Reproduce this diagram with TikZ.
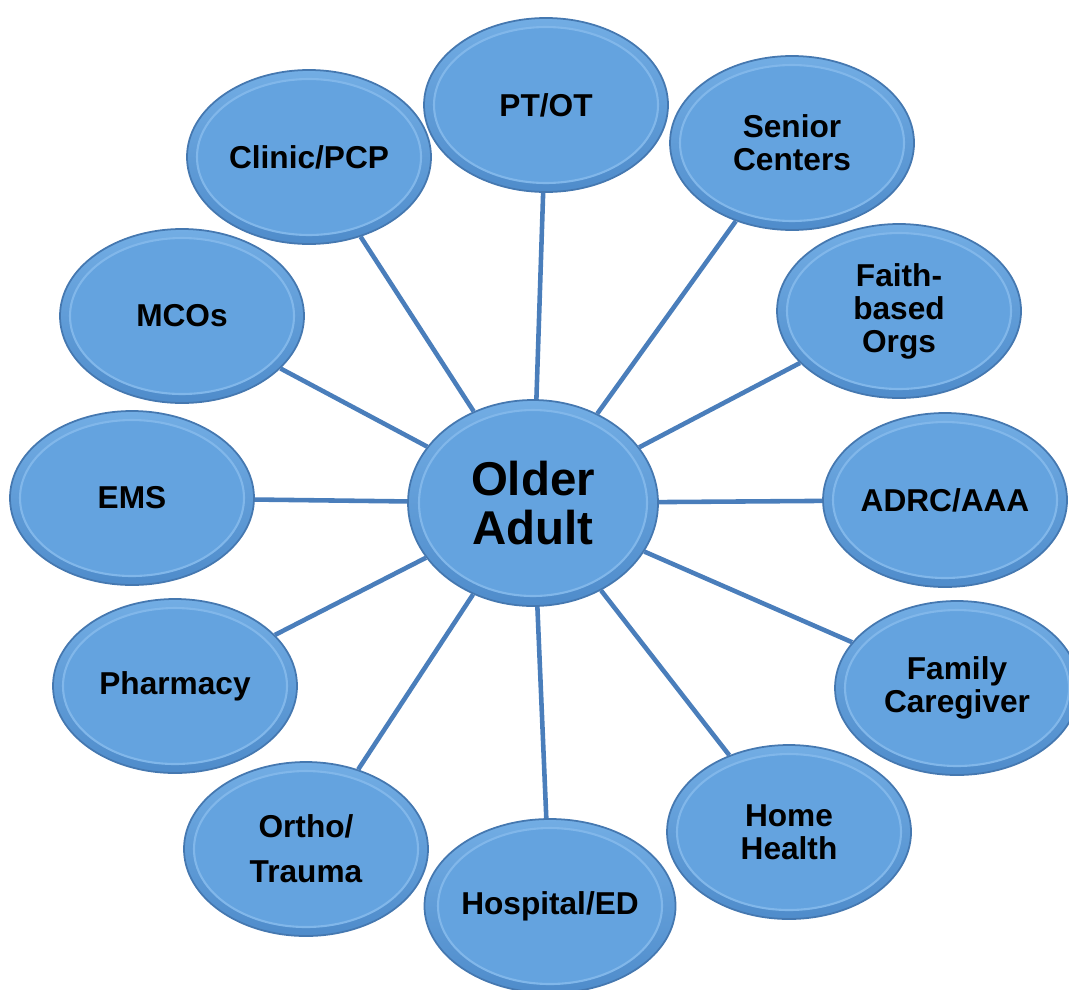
\documentclass[tikz,border=0pt]{standalone}
\usepackage{fontspec}
\setmainfont{Liberation Sans}
\usepackage{tikz}
\usetikzlibrary{shapes.geometric}
\usepackage{xcolor}

\definecolor{bubblefill}{HTML}{64A3DF}
\definecolor{bubbletop}{HTML}{72ADE4}
\definecolor{bubblelow}{HTML}{4F8CCB}
\definecolor{bubbleedge}{HTML}{4578B0}
\definecolor{bubblelight}{HTML}{8DC0EE}
\definecolor{spoke}{HTML}{4A7EBB}

\tikzset{
  bubble/.style={ellipse, draw=bubbleedge, line width=0.5pt, top color=bubbletop,
    bottom color=bubblelow, align=center, inner sep=0pt,
    minimum width=2.44cm, minimum height=1.74cm,
    font=\fontsize{9}{9.4}\selectfont\bfseries, ring={1.12cm}{0.78cm}},
  hub/.style={bubble, minimum width=2.5cm, minimum height=2.06cm,
    font=\fontsize{13.5}{14.2}\selectfont\bfseries, ring={1.14cm}{0.93cm}},
  ring/.style 2 args={path picture={
    \draw[bubblelight!70!bubblefill, line width=0.6pt, fill=bubblefill]
      (path picture bounding box.center) ellipse [x radius=#1, y radius=#2];}},
  spokeline/.style={spoke, line width=1.3pt}
}

\begin{document}
\begin{tikzpicture}
    \useasboundingbox (0,0) rectangle (10.69,9.89);
    % Centro
    \node[hub] (adult) at (5.33,4.86) {Older\\Adult};
    % Servicos
    \foreach \name/\x/\y/\txt in {
        ptot/5.46/8.84/{PT/OT},
        senior/7.92/8.46/{Senior\\Centers},
        faith/8.99/6.78/{Faith-\\based\\Orgs},
        adrc/9.45/4.89/{ADRC/AAA},
        family/9.57/3.01/{Family\\Caregiver},
        home/7.89/1.57/{Home\\Health},
        hosp/5.50/0.83/{Hospital/ED},
        ortho/3.06/1.40/{Ortho/\\[3.5pt]Trauma},
        pharm/1.75/3.03/{Pharmacy},
        ems/1.32/4.91/{EMS},
        mco/1.82/6.73/{MCOs},
        clinic/3.09/8.32/{Clinic/PCP}} {
        \node[bubble] (\name) at (\x,\y) {\txt};
        \draw[spokeline] (adult) -- (\name);
    }
\end{tikzpicture}
\end{document}
